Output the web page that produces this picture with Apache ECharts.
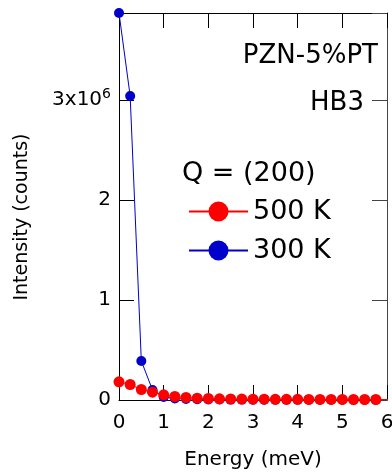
<!DOCTYPE html>
<html>
<head>
<meta charset="utf-8">
<script src="https://cdn.jsdelivr.net/npm/echarts@6/dist/echarts.min.js"></script>
<style>
  html, body { margin: 0; padding: 0; background: #fff; }
  #chart { width: 392px; height: 472px; }
</style>
</head>
<body>
<div id="chart"></div>
<script>
// Energy transfer (meV), sampled every 0.25 meV
const energy = [0, 0.25, 0.5, 0.75, 1, 1.25, 1.5, 1.75, 2, 2.25, 2.5, 2.75,
                3, 3.25, 3.5, 3.75, 4, 4.25, 4.5, 4.75, 5, 5.25, 5.5, 5.75, 6.25];

// Intensity (counts) at Q = (200)
const counts500K = [182000, 155000, 105000, 78000, 52000, 35000, 25000, 18000,
                    15000, 12000, 10000, 9000, 8000, 8000, 7000, 7000, 7000, 6000,
                    6000, 6000, 6000, 5000, 5000, 5000, 5000];
const counts300K = [3870000, 3040000, 390000, 100000, 30000, 15000, 10000, 8000,
                    6000, 5000, 4000, 4000, 3000, 3000, 3000, 3000, 3000, 3000,
                    3000, 3000, 3000, 3000, 3000, 3000, 3000];

const seriesNames = ['500 K', '300 K'];
const seriesColors = ['#ff0000', '#0000cc'];

// Intensity axis tick labels, in units of 10^6 counts
const yTickValues = [0, 1000000, 2000000, 3000000];
const yTickLabels = ['0', '1', '2', '3x10{s|6}'];

const xTickLabels = ['0', '1', '2', '3', '4', '5', '6'];

const FONT = 'DejaVu Sans';

function pairs(xs, ys) {
  return xs.map((x, i) => [x, ys[i]]);
}

const chart = echarts.init(document.getElementById('chart'), null, { renderer: 'canvas' });

const tickStyle = { show: true, inside: true, length: 15, lineStyle: { color: '#000', width: 1 } };

chart.setOption({
  animation: false,
  backgroundColor: '#fff',
  textStyle: { fontFamily: FONT, color: '#000' },
  grid: { left: 119, top: 13, right: 5, bottom: 72, containLabel: false, outerBoundsMode: 'none' },
  xAxis: [
    {
      type: 'value', position: 'bottom', min: 0, max: 6, interval: 1,
      name: 'Energy (meV)', nameLocation: 'middle', nameGap: 50,
      nameTextStyle: { fontFamily: FONT, fontSize: 20, color: '#000' },
      axisLine: { show: true, onZero: false, lineStyle: { color: '#000', width: 1 } },
      axisTick: tickStyle,
      splitLine: { show: false },
      axisLabel: {
        fontFamily: FONT, fontSize: 20, color: '#000', margin: 13,
        showMaxLabel: true, showMinLabel: true,
        formatter: v => xTickLabels[Math.round(v)] ?? ''
      }
    },
    {
      type: 'value', position: 'top', min: 0, max: 6, interval: 1,
      axisLine: { show: true, onZero: false, lineStyle: { color: '#000', width: 1 } },
      axisTick: tickStyle,
      axisLabel: { show: false },
      splitLine: { show: false }
    }
  ],
  yAxis: [
    {
      type: 'value', position: 'left', min: 0, max: 3870000, interval: 1000000,
      axisLine: { show: true, onZero: false, lineStyle: { color: '#000', width: 1 } },
      axisTick: tickStyle,
      splitLine: { show: false },
      axisLabel: {
        fontFamily: FONT, fontSize: 20, color: '#000', margin: 8,
        formatter: v => {
          const i = yTickValues.indexOf(v);
          return i >= 0 ? yTickLabels[i] : '';
        },
        rich: {
          s: { fontFamily: FONT, fontSize: 14, color: '#000', verticalAlign: 'top', lineHeight: 26 }
        }
      }
    },
    {
      type: 'value', position: 'right', min: 0, max: 3870000, interval: 1000000,
      axisLine: { show: true, onZero: false, lineStyle: { color: '#444', width: 1 } },
      axisTick: { show: true, inside: true, length: 15, lineStyle: { color: '#444', width: 1 } },
      axisLabel: { show: false },
      splitLine: { show: false }
    }
  ],
  legend: {
    data: seriesNames,
    orient: 'vertical',
    left: 188, top: 198,
    itemWidth: 59, itemHeight: 25, itemGap: 12,
    padding: 0,
    textStyle: { fontFamily: FONT, fontSize: 27, color: '#000', lineHeight: 25 }
  },
  series: [
    {
      name: seriesNames[1], type: 'line',
      data: pairs(energy, counts300K),
      symbol: 'circle', symbolSize: 10, clip: true,
      itemStyle: { color: seriesColors[1] },
      lineStyle: { color: seriesColors[1], width: 1 },
      z: 2
    },
    {
      name: seriesNames[0], type: 'line',
      data: pairs(energy, counts500K),
      symbol: 'circle', symbolSize: 11, clip: true,
      itemStyle: { color: seriesColors[0] },
      lineStyle: { color: seriesColors[0], width: 1 },
      z: 3
    }
  ],
  graphic: [
    {
      type: 'text', x: 378, y: 56,
      style: { text: 'PZN-5%PT', fontFamily: FONT, fontSize: 26, fill: '#000', align: 'right', verticalAlign: 'middle' }
    },
    {
      type: 'text', x: 364, y: 103,
      style: { text: 'HB3', fontFamily: FONT, fontSize: 26, fill: '#000', align: 'right', verticalAlign: 'middle' }
    },
    {
      type: 'text', x: 182, y: 174,
      style: { text: 'Q = (200)', fontFamily: FONT, fontSize: 27, fill: '#000', align: 'left', verticalAlign: 'middle' }
    },
    {
      type: 'text', x: 22, y: 217, rotation: Math.PI / 2,
      style: { text: 'Intensity (counts)', fontFamily: FONT, fontSize: 19, fill: '#000', align: 'center', verticalAlign: 'middle' }
    }
  ]
});
</script>
</body>
</html>
